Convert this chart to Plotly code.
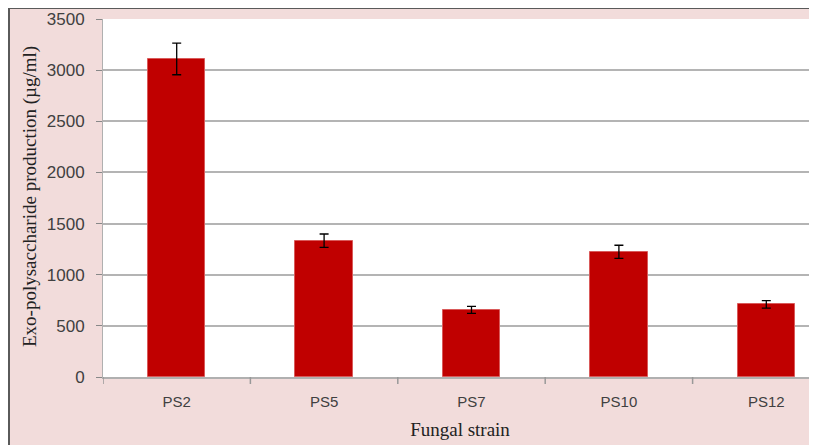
import plotly.graph_objects as go

strains = ["PS2", "PS5", "PS7", "PS10", "PS12"]
eps_values = [3110, 1333, 657, 1224, 710]
eps_errors = [155, 65, 34, 64, 37]
y_ticks = [0, 500, 1000, 1500, 2000, 2500, 3000, 3500]

# page body has an 8px margin, so the figure is drawn from (8, 8)
W, H = 809, 437
L, T, R, B = 95, 11, 0, 68
pw, ph = W - L - R, H - T - B
cat_px = 147.4

fig = go.Figure()
fig.add_trace(go.Bar(
    x=list(range(len(strains))), y=eps_values, width=0.39,
    marker=dict(color="#C00000", line=dict(color="#D95A5A", width=1)),
    error_y=dict(type="data", array=eps_errors, visible=True,
                 color="#000000", thickness=1.3, width=4.5),
))

def px_x(p):
    return (p - L) / pw

def px_y(p):
    return (H - B - p) / ph

shapes = [
    dict(type="path", xref="paper", yref="paper",
         path=f"M {px_x(1)} {px_y(460)} L {px_x(1)} {px_y(0)} L {px_x(830)} {px_y(0)}",
         line=dict(color="#5A5A5A", width=2), layer="above"),
]

fig.update_layout(
    width=W, height=H,
    margin=dict(l=L, r=R, t=T, b=B, pad=0, autoexpand=False),
    paper_bgcolor="#F2DCDB", plot_bgcolor="white",
    showlegend=False, shapes=shapes, bargap=0,
    xaxis=dict(
        automargin=False,
        range=[-0.5, -0.5 + pw / cat_px],
        tickmode="array", tickvals=list(range(len(strains))), ticktext=strains,
        ticks="", showgrid=False, zeroline=False, ticklabelstandoff=10,
        showline=True, linecolor="#B0B0B0", linewidth=2,
        tickfont=dict(family="Liberation Sans", size=15, color="#404040"),
        title=dict(text="Fungal strain", standoff=14,
                   font=dict(family="Liberation Serif", size=19, color="#222222")),
    ),
    yaxis=dict(
        automargin=False,
        range=[0, 3500], tickmode="array", tickvals=y_ticks,
        ticks="outside", ticklen=6, tickcolor="#888888", ticklabelstandoff=8,
        showgrid=True, gridcolor="#B4B4B4", gridwidth=1.5, zeroline=False,
        showline=True, linecolor="#B0B0B0", linewidth=1,
        tickfont=dict(family="Liberation Sans", size=17, color="#404040"),
    ),
    annotations=[dict(
        text="Exo-polysaccharide production (µg/ml)", textangle=-90,
        xref="paper", yref="paper", x=px_x(22), y=px_y(189),
        xanchor="center", yanchor="middle", showarrow=False,
        font=dict(family="Liberation Serif", size=19, color="#222222"),
    )],
)

for i in range(len(strains)):
    xb = i - 0.5
    fig.add_shape(type="line", xref="x", yref="paper", x0=xb, x1=xb,
                  y0=0, y1=-7 / ph, line=dict(color="#999999", width=1.5), layer="above")

fig.write_html("out.html")
